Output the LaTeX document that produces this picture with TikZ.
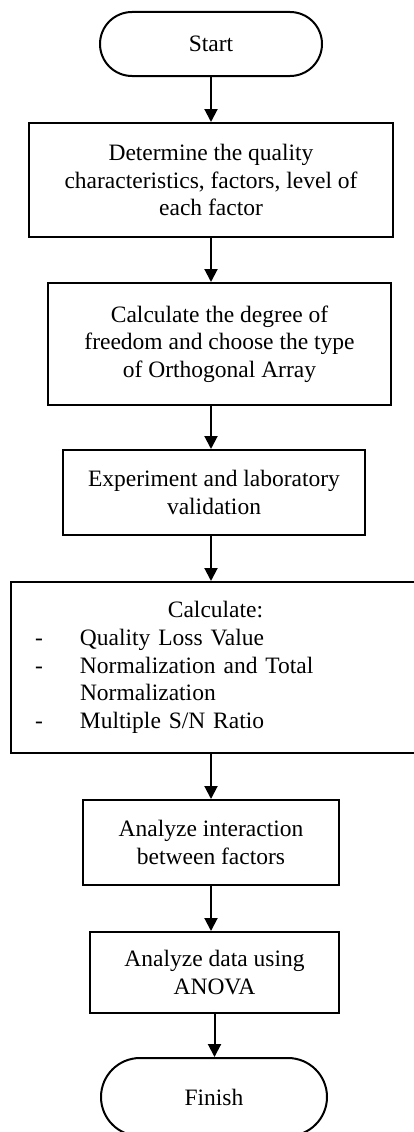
\documentclass[tikz,border=0pt]{standalone}
\usepackage{fontspec}
\setmainfont{Liberation Serif}
\usetikzlibrary{arrows.meta,shapes.misc}
\begin{document}
\begin{tikzpicture}[x=1pt,y=-1pt,
  every node/.style={font=\fontsize{23.5}{27.6}\selectfont, line width=2pt, draw=black, align=center, inner sep=0pt},
  term/.style={rounded rectangle},
  procbox/.style={rectangle},
  arr/.style={line width=2pt, -{Triangle[length=13pt,width=13pt]}}
]
\useasboundingbox (0,0) rectangle (414,1132);
\node[term, minimum width=222pt, minimum height=64pt] (start) at (211,44) {Start};
\node[procbox, minimum width=364pt, minimum height=114pt] (b1) at (211,180)
  {Determine the quality\\characteristics, factors, level of\\each factor};
\node[procbox, minimum width=343pt, minimum height=122pt] (b2) at (219.5,344)
  {Calculate the degree of\\freedom and choose the type\\of Orthogonal Array};
\node[procbox, minimum width=302pt, minimum height=85pt] (b3) at (214,492.5)
  {Experiment and laboratory\\validation};
\node[procbox, minimum width=409pt, minimum height=171pt, text width=361pt, align=left] (b4) at (215.5,667.5)
  {\makebox[\linewidth][c]{Calculate:}\\
   \makebox[45pt][l]{-}Quality Loss Value\\
   \makebox[45pt][l]{-}Normalization and Total\\
   \makebox[45pt][l]{}Normalization\\
   \makebox[45pt][l]{-}Multiple S/N Ratio};
\node[procbox, minimum width=256pt, minimum height=85pt] (b5) at (211,842.5)
  {Analyze interaction\\between factors};
\node[procbox, minimum width=249pt, minimum height=81pt] (b6) at (214.5,972.5)
  {Analyze data using\\ANOVA};
\node[term, minimum width=226pt, minimum height=78pt] (finish) at (214,1097) {Finish};
\draw[arr] (start.south) -- (start.south |- b1.north);
\draw[arr] (b1.south) -- (b1.south |- b2.north);
\draw[arr] (b1.south |- b2.south) -- (b1.south |- b3.north);
\draw[arr] (b1.south |- b3.south) -- (b1.south |- b4.north);
\draw[arr] (b5.north |- b4.south) -- (b5.north);
\draw[arr] (b5.south) -- (b5.south |- b6.north);
\draw[arr] (b6.south) -- (b6.south |- finish.north);
\end{tikzpicture}
\end{document}
